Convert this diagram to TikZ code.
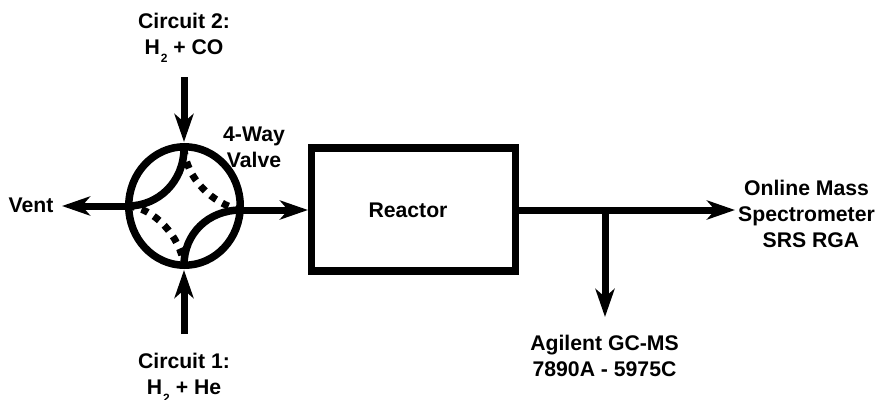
\documentclass[tikz,border=0pt]{standalone}
\usepackage{fontspec}
\setmainfont{Liberation Sans}
\usetikzlibrary{arrows.meta,shapes.geometric}
\newcommand{\lowsub}[1]{\hspace{1pt}\raisebox{-8pt}[0pt][0pt]{\fontsize{12}{12}\selectfont #1}}
\tikzset{
  lbl/.style={font=\fontsize{21.2}{26}\selectfont\bfseries, align=center, inner sep=0pt},
  flow/.style={line width=7pt, -{Stealth[length=28pt,width=19pt,inset=8pt]}},
  boxline/.style={draw, line width=7.5pt, inner sep=0pt, outer sep=0pt},
  solidarc/.style={line width=7.5pt},
  dotarc/.style={line width=7pt, dash pattern=on 7pt off 7pt}
}
\begin{document}
\begin{tikzpicture}[x=1pt,y=-1pt]
\useasboundingbox (0,0) rectangle (877,399);
\node[boxline, ellipse, minimum width=111.5pt, minimum height=118.5pt] (valve) at (184.5,206) {};
\node[boxline, rectangle, minimum width=204pt, minimum height=123pt, anchor=north west] (reactor) at (311.5,148) {};
\node[lbl] (reactorlabel) at (408,210) {Reactor};
\node[lbl] (c2) at (184,34) {Circuit 2:\\H\lowsub{2} + CO};
\node[lbl] (c1) at (184,374) {Circuit 1:\\H\lowsub{2} + He};
\node[lbl] (valvelabel) at (254,147) {4-Way\\Valve};
\node[lbl] (vent) at (31,205) {Vent};
\node[lbl] (ms) at (806.5,214) {Online Mass\\Spectrometer\\\hspace*{9pt}SRS RGA};
\node[lbl] (gc) at (604.5,356) {Agilent GC-MS\\7890A - 5975C};
\coordinate (topstart) at (184,77);
\coordinate (bottomstart) at (184,334);
\coordinate (topport) at (184,148);
\coordinate (bottomport) at (184,265);
\coordinate (leftport) at (128,206);
\coordinate (rightport) at (241,210);
\coordinate (lefttip) at (62,206);
\coordinate (righttip) at (308,210);
\coordinate (outstart) at (515,210);
\coordinate (outtip) at (735,210);
\coordinate (branch) at (605,210);
\coordinate (branchtip) at (605,317);
\draw[flow] (topstart) -- (184,142);
\draw[flow] (bottomstart) -- (184,270);
\draw[flow] (leftport) -- (lefttip);
\draw[flow] (rightport) -- (righttip);
\draw[flow] (outstart) -- (outtip);
\draw[flow] (branch) -- (branchtip);
\draw[solidarc] (topport) .. controls (184,182) and (158,206) .. (leftport);
\draw[solidarc] (bottomport) .. controls (184,234) and (208,210) .. (rightport);
\draw[dotarc] (topport) .. controls (186,178) and (212,204) .. (rightport);
\draw[dotarc] (leftport) .. controls (154,208) and (180,236) .. (bottomport);
\end{tikzpicture}
\end{document}
